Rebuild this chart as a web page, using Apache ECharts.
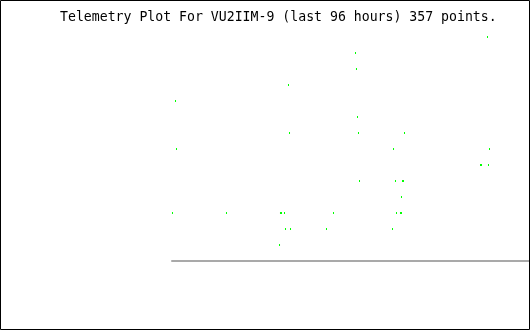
<!DOCTYPE html>
<html>
<head>
<meta charset="utf-8">
<script src="https://cdn.jsdelivr.net/npm/echarts@6/dist/echarts.min.js"></script>
<style>
html,body{margin:0;padding:0;background:#fff;}
#chart{width:530px;height:330px;}
</style>
</head>
<body>
<div id="chart"></div>
<script>
// Title text
var titleText = "Telemetry Plot For VU2IIM-9 (last 96 hours) 357 points.";
// Hours within the 96-hour window (x) and telemetry value (y) for each plotted point
var hours = [84.60, 49.21, 49.47, 31.24, 0.94, 49.74,
  31.51, 50.01, 62.35,
  1.21, 59.40, 85.14,
  82.73, 82.99, 84.87,
  50.28, 59.93, 61.81, 62.08,
  61.54,
  0.13, 14.61, 29.09, 29.36, 30.17, 43.31, 60.20, 61.27, 61.54,
  30.44, 31.78, 41.43, 59.13,
  28.83];
var values = [14, 13, 12, 11, 10, 9,
  8, 8, 8,
  7, 7, 7,
  6, 6, 6,
  5, 5, 5, 5,
  4,
  3, 3, 3, 3, 3, 3, 3, 3, 3,
  2, 2, 2, 2,
  1];
var xMin = 0, xMax = 96;
var yMin = 0, yMax = 14;

var points = hours.map(function (h, i) { return [h, values[i]]; });

var chart = echarts.init(document.getElementById('chart'), null, {renderer: 'canvas'});
chart.setOption({
  animation: false,
  backgroundColor: '#ffffff',
  grid: {left: 172, right: 0, top: 37, bottom: 69, containLabel: false},
  xAxis: {
    type: 'value', min: xMin, max: xMax,
    axisLine: {show: true, onZero: false, lineStyle: {color: '#a9a9a9', width: 2}},
    axisTick: {show: false}, axisLabel: {show: false}, splitLine: {show: false}
  },
  yAxis: {
    type: 'value', min: yMin, max: yMax,
    axisLine: {show: false}, axisTick: {show: false},
    axisLabel: {show: false}, splitLine: {show: false}
  },
  series: [{
    type: 'scatter',
    data: points,
    symbol: 'rect',
    symbolSize: [1, 2],
    itemStyle: {color: '#00ff00', opacity: 1},
    silent: true
  }],
  graphic: [
    {
      type: 'text', left: 60, top: 11, z: 10,
      style: {text: titleText, font: '13.2px "DejaVu Sans Mono", monospace', fill: '#000000'}
    },
    {
      type: 'rect', z: 20, silent: true,
      shape: {x: 0.5, y: 0.5, width: 529, height: 329},
      style: {fill: null, stroke: '#000000', lineWidth: 1}
    }
  ]
});
</script>
</body>
</html>
